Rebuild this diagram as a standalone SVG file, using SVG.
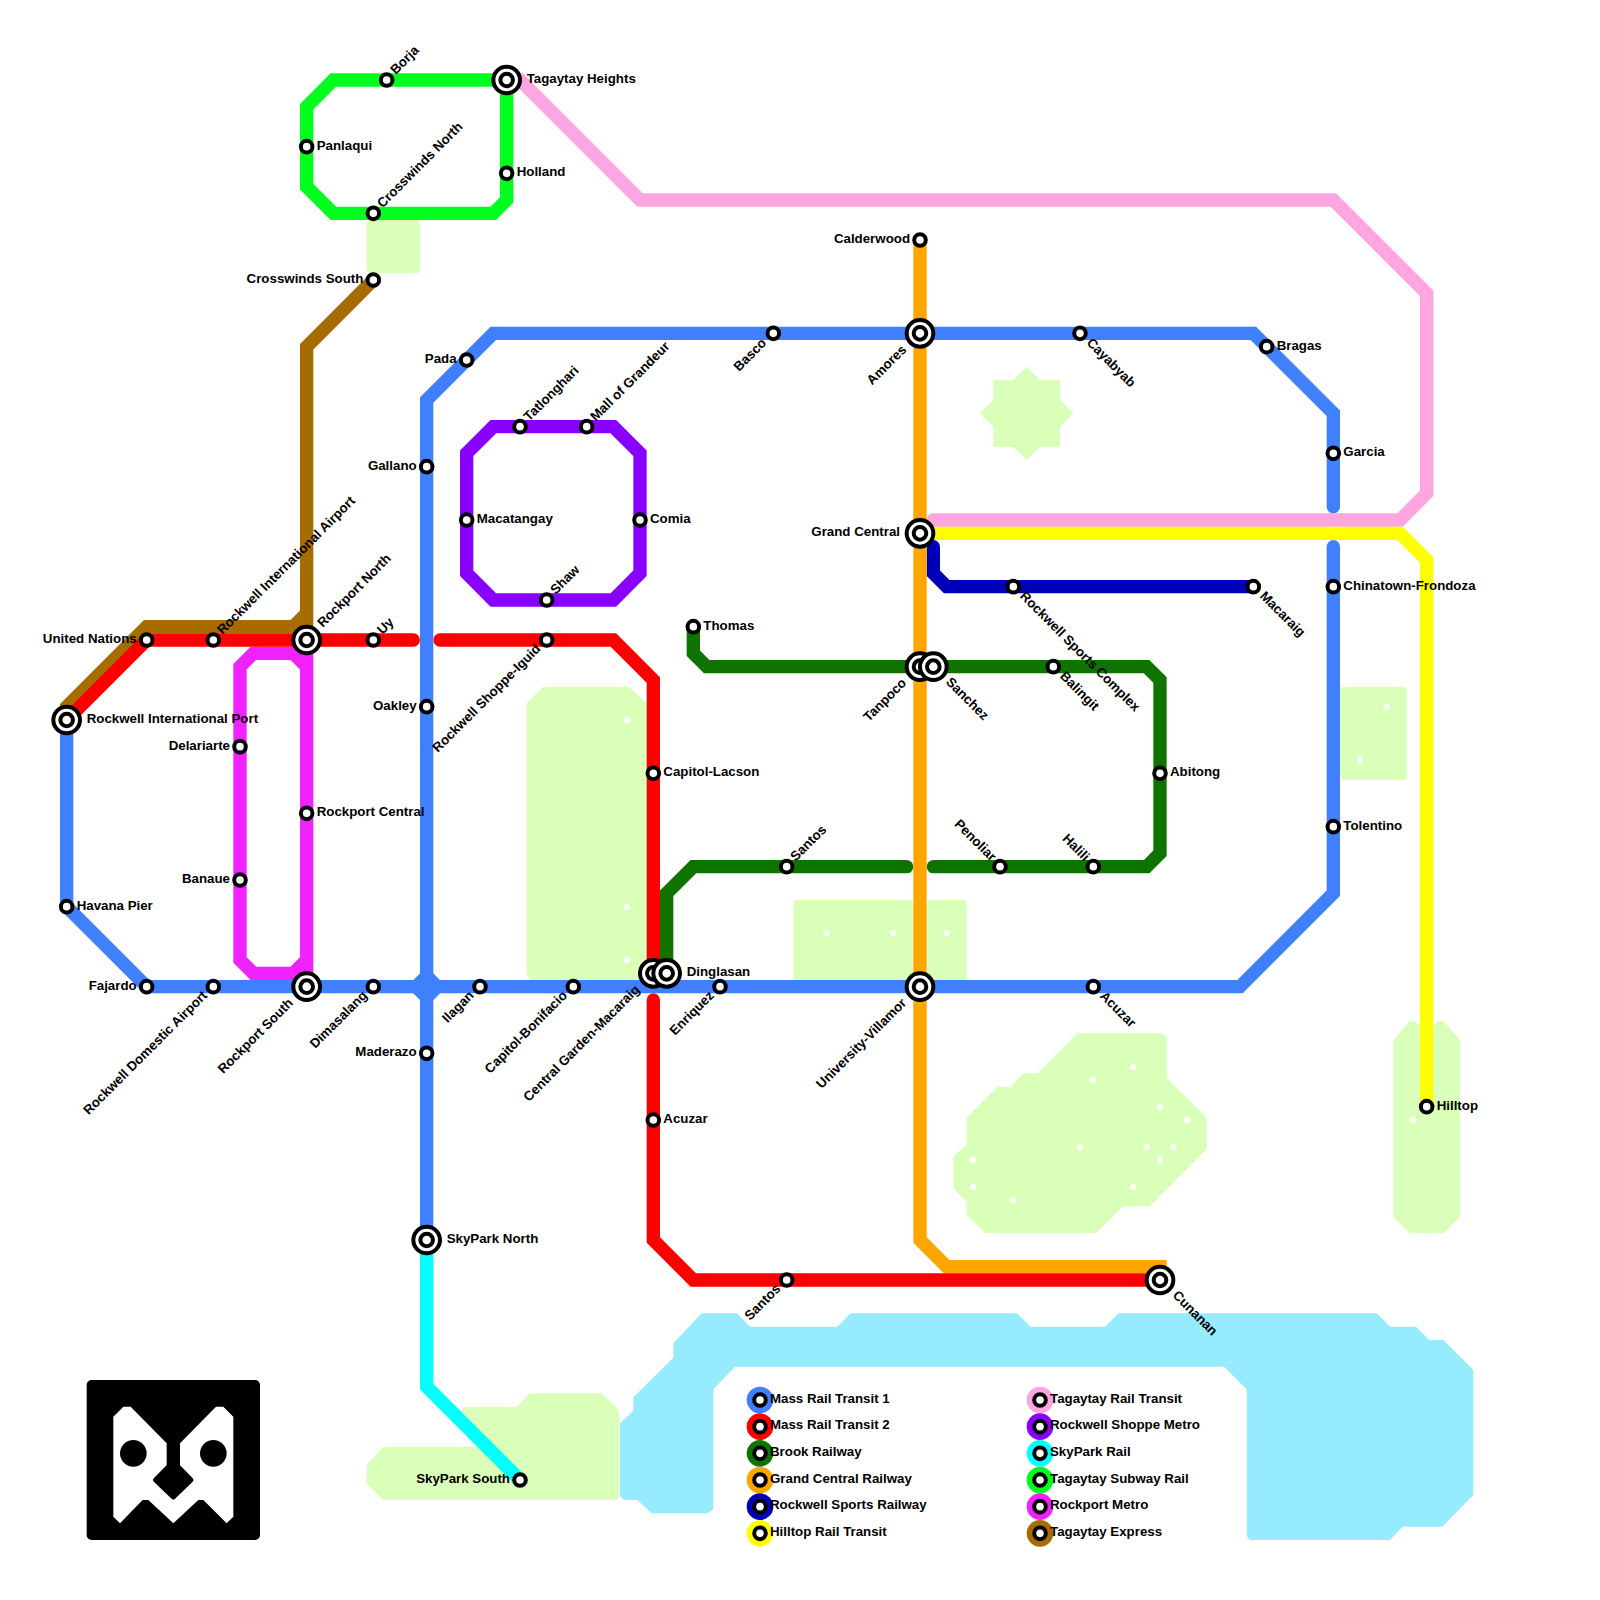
<svg xmlns="http://www.w3.org/2000/svg" width="1600" height="1600" viewBox="0 0 1600 1600">
<style>
text{font-family:"Liberation Sans",Arial,sans-serif;font-weight:700;font-size:13.3px;fill:#000}
.e{text-anchor:end}
.park{fill:#d9ffb9}
.lake{fill:#96ebff}
.dia{fill:#fff}
.ln{fill:none;stroke-width:13.33;stroke-linecap:round;stroke-linejoin:miter}
.s{fill:#fff;stroke:#000;stroke-width:4}
</style>
<defs>
<polygon id="d" class="dia" points="0,-4 4,0 0,4 -4,0"/>
<g id="ic"><circle r="13.33" class="s"/><circle r="6.3" class="s"/></g>
<circle id="st" r="5.8" class="s"/>
</defs>
<rect width="1600" height="1600" fill="#fff"/>
<g id="water-and-parks">
<polygon class="lake" points="701.67,1313.33 736.67,1313.33 750,1326.67 837.33,1326.67 850.67,1313.33 1017,1313.33 1030.33,1326.67 1105,1326.67 1118.33,1313.33 1376.67,1313.33 1390,1326.67 1416,1326.67 1429.33,1340 1443.33,1340 1473.33,1370 1473.33,1495 1442.33,1526.67 1402.67,1526.67 1390,1540 1250,1540 1246.67,1536 1246.67,1389.33 1224,1366.67 735,1366.67 713.33,1389.33 713.33,1509 708,1513.33 651.67,1513.33 637.33,1500 624,1500 620,1496 620,1423.33 633.33,1410.67 633.33,1397.33 673.33,1357.67 673.33,1343.33"/>
<rect class="park" x="366.67" y="220" width="53.33" height="53.33" rx="4"/>
<polygon class="park" points="526.67,703.33 543.33,686.67 628.33,686.67 646.67,703.33 646.67,980 531.67,980 526.67,975"/>
<rect class="park" x="793.33" y="900" width="120" height="85" rx="4"/>
<rect class="park" x="926.67" y="900" width="40" height="85" rx="4"/>
<polygon class="park" points="993.33,380 1013.33,380 1026.67,366.67 1040,380 1060,380 1060,400 1073.33,413.33 1060,426.67 1060,446.67 1040,446.67 1026.67,460 1013.33,446.67 993.33,446.67 993.33,426.67 980,413.33 993.33,400"/>
<rect class="park" x="1340" y="686.67" width="66.67" height="93.33" rx="4"/>
<polygon class="park" points="1393.33,1040 1410,1021 1415,1021 1420,1026 1433,1026 1438,1021 1443.33,1021 1460,1040 1460,1217 1443.33,1233.33 1410,1233.33 1393.33,1217"/>
<polygon class="park" points="1077.67,1033.33 1162,1033.33 1166.67,1038 1166.67,1078.33 1206.67,1117.67 1206.67,1149 1150,1206 1122.67,1206.67 1096,1233.33 985,1233.33 966.67,1215 966.67,1201.67 953.33,1188.33 953.33,1156.67 966.67,1144.33 966.67,1117.67 997.33,1086.67 1010.67,1086.67 1023.33,1073.33 1037.67,1073.33"/>
<polygon class="park" points="466,1406.67 516.67,1406.67 530,1393.33 601.67,1393.33 619.33,1410.67 619.33,1497 616,1500 383.33,1500 366.67,1483.33 366.67,1465 383.33,1446.67 480,1446.67 461,1410"/>
<use href="#d" x="626.67" y="720"/><use href="#d" x="626.67" y="906.67"/><use href="#d" x="626.67" y="960"/>
<use href="#d" x="826.67" y="933.33"/><use href="#d" x="893.33" y="933.33"/><use href="#d" x="946.67" y="933.33"/>
<use href="#d" x="1386.67" y="706.67"/><use href="#d" x="1360" y="760"/><use href="#d" x="1413.33" y="1120"/>
<use href="#d" x="1133.33" y="1066.67"/><use href="#d" x="1093.33" y="1080"/><use href="#d" x="1160" y="1106.67"/><use href="#d" x="1186.67" y="1120"/><use href="#d" x="1080" y="1146.67"/><use href="#d" x="1146.67" y="1146.67"/><use href="#d" x="1173.33" y="1146.67"/><use href="#d" x="1160" y="1160"/><use href="#d" x="973.33" y="1160"/><use href="#d" x="973.33" y="1186.67"/><use href="#d" x="1133.33" y="1186.67"/><use href="#d" x="1013.33" y="1200"/>
</g>
<g id="logo">
<rect x="86.67" y="1380" width="173.33" height="160" rx="5" fill="#000"/>
<polygon fill="#fff" points="113.33,1416.67 123.33,1406.67 130.67,1406.67 166.67,1443.33 166.67,1480 180,1480 180,1443.33 216,1406.67 223.33,1406.67 233.33,1416.67 233.33,1516.67 226.67,1523.33 203.33,1500 198.33,1500 173.33,1523.33 148.33,1500 142.67,1500 120,1523.33 113.33,1516.67"/>
<circle cx="133.33" cy="1453.33" r="13.33" fill="#000"/><circle cx="213.33" cy="1453.33" r="13.33" fill="#000"/>
<polygon fill="#000" stroke="#000" stroke-width="5" stroke-linejoin="round" points="173.33,1462 191,1480 173.33,1497 155.5,1480"/>
</g>
<g id="connectors">
<path class="ln" stroke="#a66c00" d="M373.33 280L306.67 346.67V640M306.67 613.33L293.33 626.67H146.67L66.67 706.67V720"/>
<path class="ln" stroke="#f022ff" d="M306.67 640V986.67M306.67 666.67L293.33 653.33H253.33L240 666.67V960L253.33 973.33H293.33L306.67 960"/>
<path class="ln" stroke="#00ff1e" d="M506.67 80H333.33L306.67 106.67V186.67L333.33 213.33H493.33L506.67 200Z"/>
<path class="ln" stroke="#00ffff" d="M426.67 1240V1386.67L520 1480"/>
<path class="ln" stroke="#8800ff" d="M493.33 426.67H613.33L640 453.33V573.33L613.33 600H493.33L466.67 573.33V453.33Z"/>
<path class="ln" stroke="#ffa6e1" d="M506.67 80H520L640 200H1333.33L1426.67 293.33V493.33L1400 520H933.33"/>
<path class="ln" stroke="#ffff00" d="M920 533.33H1400L1426.67 560V1106.67"/>
<path class="ln" stroke="#0000b8" d="M933.33 546.67V573.33L946.67 586.67H1253.33"/>
<path class="ln" stroke="#ffa500" d="M920 240V1240L946.67 1266.67H1160V1280"/>
<path class="ln" stroke="#0f7300" d="M693.33 626.67V653.33L706.67 666.67H1146.67L1160 680V853.33L1146.67 866.67H933.33M906.67 866.67H693.33L666.67 893.33V973.33"/>
<path class="ln" stroke="#ff0000" d="M66.67 720L146.67 640H413.33M440 640H613.33L653.33 680V973.33M653.33 1000V1240L693.33 1280H1160"/>
<path class="ln" stroke="#4080ff" d="M66.67 720V906.67L146.67 986.67H1240L1333.33 893.33V546.67M1333.33 506.67V413.33L1253.33 333.33H493.33L426.67 400V1240"/>
<polygon fill="#4080ff" points="424.17,969.17 429.17,969.17 444.17,984.17 444.17,989.17 429.17,1004.17 424.17,1004.17 409.17,989.17 409.17,984.17"/>
</g>
<g id="nodes">
<g id="n-rockwell-international-port"><use href="#ic" x="66.67" y="720"/><text x="86.67" y="723">Rockwell International Port</text></g>
<g id="n-havana-pier"><use href="#st" x="66.67" y="906.67"/><text x="76.67" y="909.5">Havana Pier</text></g>
<g id="n-fajardo"><use href="#st" x="146.67" y="986.67"/><text class="e" x="136.67" y="989.5">Fajardo</text></g>
<g id="n-rockwell-domestic"><use href="#st" x="213.33" y="986.67"/><text class="e" transform="translate(205.83 994.17) rotate(-45)" y="3">Rockwell Domestic Airport</text></g>
<g id="n-rockport-south"><use href="#ic" x="306.67" y="986.67"/><text class="e" transform="translate(291.67 1001.67) rotate(-45)" y="3">Rockport South</text></g>
<g id="n-dimasalang"><use href="#st" x="373.33" y="986.67"/><text class="e" transform="translate(365.83 994.17) rotate(-45)" y="3">Dimasalang</text></g>
<g id="n-ilagan"><use href="#st" x="480" y="986.67"/><text class="e" transform="translate(472.5 994.17) rotate(-45)" y="3">Ilagan</text></g>
<g id="n-capitol-bonifacio"><use href="#st" x="573.33" y="986.67"/><text class="e" transform="translate(565.83 994.17) rotate(-45)" y="3">Capitol-Bonifacio</text></g>
<g id="n-enriquez"><use href="#st" x="720" y="986.67"/><text class="e" transform="translate(712.5 994.17) rotate(-45)" y="3">Enriquez</text></g>
<g id="n-university-villamor"><use href="#ic" x="920" y="986.67"/><text class="e" transform="translate(905 1001.67) rotate(-45)" y="3">University-Villamor</text></g>
<g id="n-acuzar-1"><use href="#st" x="1093.33" y="986.67"/><text transform="translate(1101.33 994.67) rotate(45)" y="3">Acuzar</text></g>
<g id="n-tolentino"><use href="#st" x="1333.33" y="826.67"/><text x="1343.33" y="829.5">Tolentino</text></g>
<g id="n-chinatown"><use href="#st" x="1333.33" y="586.67"/><text x="1343.33" y="589.5">Chinatown-Frondoza</text></g>
<g id="n-garcia"><use href="#st" x="1333.33" y="453.33"/><text x="1343.33" y="456.2">Garcia</text></g>
<g id="n-bragas"><use href="#st" x="1266.67" y="346.67"/><text x="1276.67" y="349.5">Bragas</text></g>
<g id="n-cayabyab"><use href="#st" x="1080" y="333.33"/><text transform="translate(1088 341.33) rotate(45)" y="3">Cayabyab</text></g>
<g id="n-amores"><use href="#ic" x="920" y="333.33"/><text class="e" transform="translate(905 348.33) rotate(-45)" y="3">Amores</text></g>
<g id="n-basco"><use href="#st" x="773.33" y="333.33"/><text class="e" transform="translate(765 341.67) rotate(-45)" y="3">Basco</text></g>
<g id="n-pada"><use href="#st" x="466.67" y="360"/><text class="e" x="456.67" y="363">Pada</text></g>
<g id="n-gallano"><use href="#st" x="426.67" y="466.67"/><text class="e" x="416.67" y="469.5">Gallano</text></g>
<g id="n-oakley"><use href="#st" x="426.67" y="706.67"/><text class="e" x="416.67" y="709.5">Oakley</text></g>
<g id="n-maderazo"><use href="#st" x="426.67" y="1053.33"/><text class="e" x="416.67" y="1056.2">Maderazo</text></g>
<g id="n-skypark-north"><use href="#ic" x="426.67" y="1240"/><text x="446.67" y="1243">SkyPark North</text></g>
<g id="n-skypark-south"><use href="#st" x="520" y="1480"/><text class="e" x="510" y="1483">SkyPark South</text></g>
<g id="n-united-nations"><use href="#st" x="146.67" y="640"/><text class="e" x="136.67" y="643">United Nations</text></g>
<g id="n-rockwell-airport"><use href="#st" x="213.33" y="640"/><text transform="translate(220.33 633) rotate(-45)" y="3">Rockwell International Airport</text></g>
<g id="n-rockport-north"><use href="#ic" x="306.67" y="640"/><text transform="translate(320.67 626) rotate(-45)" y="3">Rockport North</text></g>
<g id="n-uy"><use href="#st" x="373.33" y="640"/><text transform="translate(380.33 633) rotate(-45)" y="3">Uy</text></g>
<g id="n-shoppe-iguid"><use href="#st" x="546.67" y="640"/><text class="e" transform="translate(539.17 647.5) rotate(-45)" y="3">Rockwell Shoppe-Iguid</text></g>
<g id="n-capitol-lacson"><use href="#st" x="653.33" y="773.33"/><text x="663.33" y="776.2">Capitol-Lacson</text></g>
<g id="n-central-garden"><use href="#ic" x="653.33" y="973.33"/><text class="e" transform="translate(638.33 988.33) rotate(-45)" y="3">Central Garden-Macaraig</text></g>
<g id="n-acuzar-2"><use href="#st" x="653.33" y="1120"/><text x="663.33" y="1123">Acuzar</text></g>
<g id="n-santos-2"><use href="#st" x="786.67" y="1280"/><text class="e" transform="translate(779.17 1287.5) rotate(-45)" y="3">Santos</text></g>
<g id="n-cunanan"><use href="#ic" x="1160" y="1280"/><text transform="translate(1174 1294) rotate(45)" y="3">Cunanan</text></g>
<g id="n-thomas"><use href="#st" x="693.33" y="626.67"/><text x="703.33" y="629.5">Thomas</text></g>
<g id="n-tanpoco"><use href="#ic" x="920" y="666.67"/><text class="e" transform="translate(905 681.67) rotate(-45)" y="3">Tanpoco</text></g>
<g id="n-sanchez"><use href="#ic" x="933.33" y="666.67"/><text transform="translate(947.33 680.67) rotate(45)" y="3">Sanchez</text></g>
<g id="n-balingit"><use href="#st" x="1053.33" y="666.67"/><text transform="translate(1061.33 674.67) rotate(45)" y="3">Balingit</text></g>
<g id="n-abitong"><use href="#st" x="1160" y="773.33"/><text x="1170" y="776.2">Abitong</text></g>
<g id="n-halili"><use href="#st" x="1093.33" y="866.67"/><text class="e" transform="translate(1086.33 859.67) rotate(45)" y="3">Halili</text></g>
<g id="n-penoliar"><use href="#st" x="1000" y="866.67"/><text class="e" transform="translate(993 859.67) rotate(45)" y="3">Penoliar</text></g>
<g id="n-santos-1"><use href="#st" x="786.67" y="866.67"/><text transform="translate(793.67 859.67) rotate(-45)" y="3">Santos</text></g>
<g id="n-dinglasan"><use href="#ic" x="666.67" y="973.33"/><text x="686.67" y="976.2">Dinglasan</text></g>
<g id="n-calderwood"><use href="#st" x="920" y="240"/><text class="e" x="910" y="243">Calderwood</text></g>
<g id="n-grand-central"><use href="#ic" x="920" y="533.33"/><text class="e" x="900" y="536.2">Grand Central</text></g>
<g id="n-sports-complex"><use href="#st" x="1013.33" y="586.67"/><text transform="translate(1021.33 594.67) rotate(45)" y="3">Rockwell Sports Complex</text></g>
<g id="n-macaraig"><use href="#st" x="1253.33" y="586.67"/><text transform="translate(1261.33 594.67) rotate(45)" y="3">Macaraig</text></g>
<g id="n-hilltop"><use href="#st" x="1426.67" y="1106.67"/><text x="1436.67" y="1109.5">Hilltop</text></g>
<g id="n-tagaytay-heights"><use href="#ic" x="506.67" y="80"/><text x="526.67" y="83">Tagaytay Heights</text></g>
<g id="n-tatlonghari"><use href="#st" x="520" y="426.67"/><text transform="translate(527 419.67) rotate(-45)" y="3">Tatlonghari</text></g>
<g id="n-mall"><use href="#st" x="586.67" y="426.67"/><text transform="translate(593.67 419.67) rotate(-45)" y="3">Mall of Grandeur</text></g>
<g id="n-comia"><use href="#st" x="640" y="520"/><text x="650" y="523">Comia</text></g>
<g id="n-shaw"><use href="#st" x="546.67" y="600"/><text transform="translate(553.67 593) rotate(-45)" y="3">Shaw</text></g>
<g id="n-macatangay"><use href="#st" x="466.67" y="520"/><text x="476.67" y="523">Macatangay</text></g>
<g id="n-borja"><use href="#st" x="386.67" y="80"/><text transform="translate(393.67 73) rotate(-45)" y="3">Borja</text></g>
<g id="n-panlaqui"><use href="#st" x="306.67" y="146.67"/><text x="316.67" y="149.5">Panlaqui</text></g>
<g id="n-crosswinds-north"><use href="#st" x="373.33" y="213.33"/><text transform="translate(380.33 206.33) rotate(-45)" y="3">Crosswinds North</text></g>
<g id="n-holland"><use href="#st" x="506.67" y="173.33"/><text x="516.67" y="176.2">Holland</text></g>
<g id="n-crosswinds-south"><use href="#st" x="373.33" y="280"/><text class="e" x="363.33" y="283">Crosswinds South</text></g>
<g id="n-delariarte"><use href="#st" x="240" y="746.67"/><text class="e" x="230" y="749.5">Delariarte</text></g>
<g id="n-banaue"><use href="#st" x="240" y="880"/><text class="e" x="230" y="883">Banaue</text></g>
<g id="n-rockport-central"><use href="#st" x="306.67" y="813.33"/><text x="316.67" y="816.2">Rockport Central</text></g>
</g>
<g id="legend">
<g id="l1"><circle cx="760" cy="1400" r="13.33" fill="#4080ff"/><use href="#st" x="760" y="1400"/><text x="770" y="1402.5">Mass Rail Transit 1</text></g>
<g id="l2"><circle cx="760" cy="1426.67" r="13.33" fill="#ff0000"/><use href="#st" x="760" y="1426.67"/><text x="770" y="1429.2">Mass Rail Transit 2</text></g>
<g id="l3"><circle cx="760" cy="1453.33" r="13.33" fill="#0f7300"/><use href="#st" x="760" y="1453.33"/><text x="770" y="1455.8">Brook Railway</text></g>
<g id="l4"><circle cx="760" cy="1480" r="13.33" fill="#ffa500"/><use href="#st" x="760" y="1480"/><text x="770" y="1482.5">Grand Central Railway</text></g>
<g id="l5"><circle cx="760" cy="1506.67" r="13.33" fill="#0000b8"/><use href="#st" x="760" y="1506.67"/><text x="770" y="1509.2">Rockwell Sports Railway</text></g>
<g id="l6"><circle cx="760" cy="1533.33" r="13.33" fill="#ffff00"/><use href="#st" x="760" y="1533.33"/><text x="770" y="1535.8">Hilltop Rail Transit</text></g>
<g id="l7"><circle cx="1040" cy="1400" r="13.33" fill="#ffa6e1"/><use href="#st" x="1040" y="1400"/><text x="1050" y="1402.5">Tagaytay Rail Transit</text></g>
<g id="l8"><circle cx="1040" cy="1426.67" r="13.33" fill="#8800ff"/><use href="#st" x="1040" y="1426.67"/><text x="1050" y="1429.2">Rockwell Shoppe Metro</text></g>
<g id="l9"><circle cx="1040" cy="1453.33" r="13.33" fill="#00ffff"/><use href="#st" x="1040" y="1453.33"/><text x="1050" y="1455.8">SkyPark Rail</text></g>
<g id="l10"><circle cx="1040" cy="1480" r="13.33" fill="#00ff1e"/><use href="#st" x="1040" y="1480"/><text x="1050" y="1482.5">Tagaytay Subway Rail</text></g>
<g id="l11"><circle cx="1040" cy="1506.67" r="13.33" fill="#f022ff"/><use href="#st" x="1040" y="1506.67"/><text x="1050" y="1509.2">Rockport Metro</text></g>
<g id="l12"><circle cx="1040" cy="1533.33" r="13.33" fill="#a66c00"/><use href="#st" x="1040" y="1533.33"/><text x="1050" y="1535.8">Tagaytay Express</text></g>
</g>
</svg>
